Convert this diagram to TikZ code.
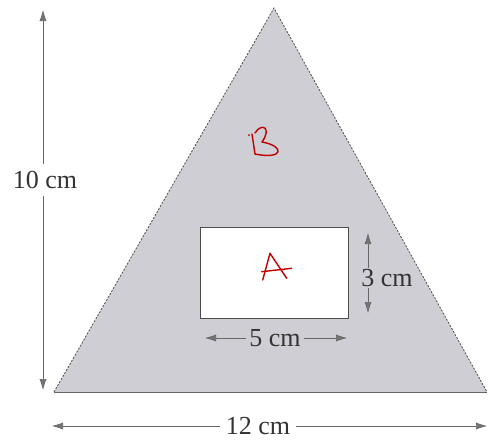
\documentclass[tikz,border=0pt]{standalone}
\usepackage{fontspec}
\setmainfont{Liberation Serif}
\usetikzlibrary{arrows.meta}
\definecolor{trigray}{RGB}{206,206,212}
\begin{document}
\begin{tikzpicture}[x=1pt,y=-1pt,
  dim/.style={draw=black!60, line width=0.6pt, -{Latex[length=11pt,width=7pt,fill=black!55]}},
  dimlabel/.style={font=\fontsize{26}{28}\selectfont, text=black!80, inner sep=1pt, fill=white},
  dimlabelg/.style={font=\fontsize{26}{28}\selectfont, text=black!80, inner sep=1pt, fill=trigray},
  hand/.style={draw=red!75!black, line width=1.4pt, line cap=round, line join=round}]
\useasboundingbox (0,0) rectangle (488,440);
% triangle
\coordinate (T) at (274,8);
\coordinate (L) at (54,392);
\coordinate (R) at (487,392);
\fill[trigray] (L) -- (T) -- (R) -- cycle;
\draw[black!70, line width=0.8pt, dash pattern=on 2pt off 1.5pt] (L) -- (T) -- (R);
\draw[black!60, line width=1pt] (L) -- (R);
% rectangle
\node[draw=black!70, fill=white, line width=0.8pt, minimum width=148pt, minimum height=91pt, inner sep=0pt] (rect) at (274,272.5) {};
% height 10 cm
\coordinate (vt) at (43,10);
\coordinate (vb) at (43,390);
\node[dimlabel, inner ysep=7pt] (h10) at (45,180) {10 cm};
\draw[dim] (h10.north -| vt) -- (vt);
\draw[dim] (h10.south -| vb) -- (vb);
% base 12 cm
\coordinate (bl) at (52,426);
\coordinate (br) at (487,426);
\node[dimlabel, inner sep=6pt] (w12) at (258,426) {12 cm};
\draw[dim] (w12.west) -- (bl);
\draw[dim] (w12.east) -- (br);
% 3 cm
\coordinate (st) at (368,233);
\coordinate (sb) at (368,313);
\node[dimlabelg] (h3) at (387,278) {3 cm};
\draw[dim] (h3.north -| st) -- (st);
\draw[dim] (h3.south -| sb) -- (sb);
% 5 cm
\coordinate (fl) at (205,338);
\coordinate (fr) at (347,338);
\node[dimlabelg, inner sep=3pt] (w5) at (275,338) {5 cm};
\draw[dim] (w5.west) -- (fl);
\draw[dim] (w5.east) -- (fr);
% handwritten B
\draw[hand] (252,134) -- (255,154);
\draw[hand] (255,133) .. controls (262,122) and (272,128) .. (262,142)
  .. controls (285,146) and (284,160) .. (255,154);
\fill[red!75!black] (249,135) circle (1pt);
% handwritten A
\draw[hand] (262.7,280) -- (270,253.3) -- (286.7,278.3);
\draw[hand] (261.7,271.7) -- (291.7,268.3);
\end{tikzpicture}
\end{document}
